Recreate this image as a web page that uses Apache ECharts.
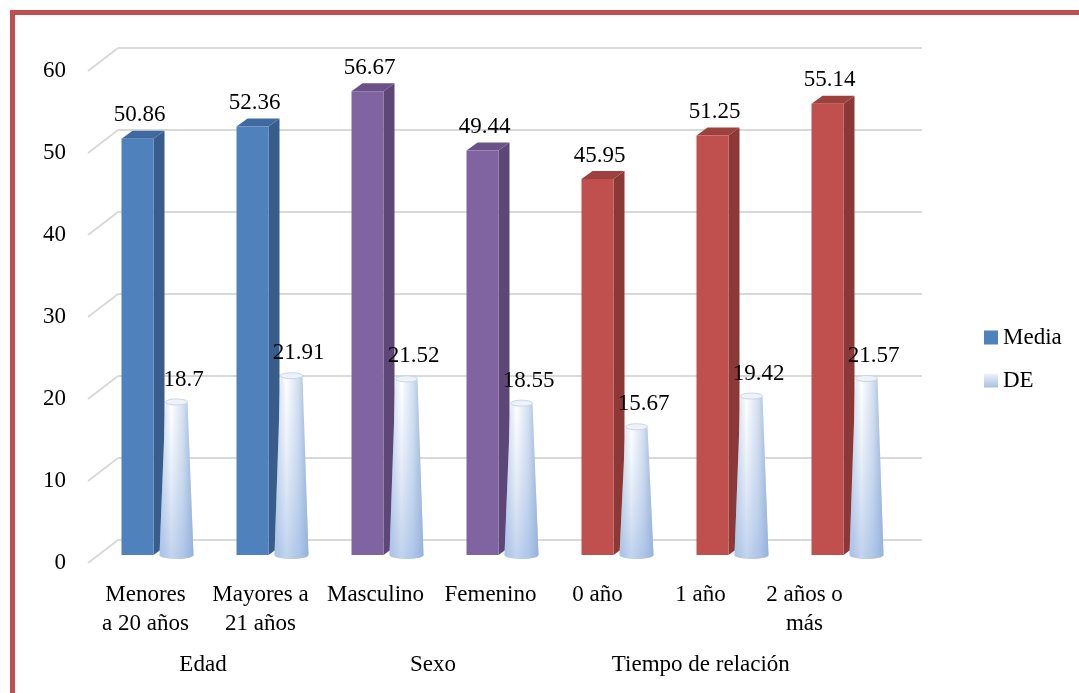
<!DOCTYPE html>
<html>
<head>
<meta charset="utf-8">
<script src="https://cdn.jsdelivr.net/npm/echarts@6/dist/echarts.min.js"></script>
<style>
  html, body { margin: 0; padding: 0; background: #fff; }
  #frame { position: absolute; left: 10px; top: 10px; width: 1069px; height: 683px;
           border-left: 5px solid #C0504D; border-top: 5px solid #C0504D; box-sizing: border-box; }
  #chart { position: absolute; left: 0; top: 0; width: 1079px; height: 693px; }
</style>
</head>
<body>
<div id="frame"></div>
<div id="chart"></div>
<script>
// datos
var categories = ['Menores\na 20 años', 'Mayores a\n21 años', 'Masculino', 'Femenino', '0 año', '1 año', '2 años o\nmás'];
var groups = ['Edad', 'Sexo', 'Tiempo de relación'];
var groupOf = [0, 0, 1, 1, 2, 2, 2];
var media = [50.86, 52.36, 56.67, 49.44, 45.95, 51.25, 55.14];
var de = [18.7, 21.91, 21.52, 18.55, 15.67, 19.42, 21.57];
var yTicks = [0, 10, 20, 30, 40, 50, 60];

var FONT = '"Liberation Serif", "DejaVu Serif", serif';
var FS = 23;
// colores por grupo: cara frontal, lateral, superior
var faceColors = [
    ['#4F81BD', '#385D8A', '#3E6AA0'],
    ['#8064A2', '#5C4776', '#6A5287'],
    ['#C0504D', '#8C3836', '#9E403D']
];
// desplazamiento horizontal de las etiquetas de categoria (como en el original)
var labelShift = [0, 0, 0, 0, -8, -20, -31];

var chart = echarts.init(document.getElementById('chart'));

function renderBar(params, api) {
    var i = api.value(0);
    var base = api.coord([i, 0]);
    var top = api.coord([i, api.value(1)]);
    var cx = base[0];
    var x0 = cx - 36, x1 = cx - 4, dx = 11, dy = 8;
    var yb = base[1], yt = top[1];
    var c = faceColors[groupOf[i]];
    return {
        type: 'group',
        children: [
            { type: 'polygon', shape: { points: [[x1, yb], [x1 + dx, yb - dy], [x1 + dx, yt - dy], [x1, yt]] },
              style: { fill: c[1] } },
            { type: 'polygon', shape: { points: [[x0, yt], [x0 + dx, yt - dy], [x1 + dx, yt - dy], [x1, yt]] },
              style: { fill: c[2] } },
            { type: 'rect', shape: { x: x0, y: yt, width: x1 - x0, height: yb - yt },
              style: { fill: c[0] } },
            { type: 'text', style: { text: String(api.value(1)), x: (x0 + x1) / 2 + 2, y: yt - dy - 4,
              align: 'center', verticalAlign: 'bottom', font: FS + 'px ' + FONT, fill: '#000' } }
        ]
    };
}

function renderCone(params, api) {
    var i = api.value(0);
    var base = api.coord([i, 0]);
    var top = api.coord([i, api.value(1)]);
    var cx = base[0] + 19;
    var rb = 17, rt = 11, ryb = 4, ryt = 3;
    var yb = base[1], yt = top[1];
    var pts = [[cx - rt, yt], [cx + rt, yt]];
    for (var k = 0; k <= 16; k++) {
        var a = Math.PI * k / 16;
        pts.push([cx + rb * Math.cos(a), yb + ryb * Math.sin(a)]);
    }
    var cap = [];
    for (var k2 = 0; k2 < 24; k2++) {
        var b = 2 * Math.PI * k2 / 24;
        cap.push([cx + rt * Math.cos(b), yt + ryt * Math.sin(b)]);
    }
    var hGrad = new echarts.graphic.LinearGradient(0, 0, 1, 0, [
        { offset: 0, color: '#c0d2ea' }, { offset: 0.35, color: '#ffffff' },
        { offset: 0.7, color: '#d2dff0' }, { offset: 1, color: '#93aed5' }
    ]);
    var vGrad = new echarts.graphic.LinearGradient(0, 0, 0, 1, [
        { offset: 0, color: 'rgba(185,205,235,0)' }, { offset: 1, color: 'rgba(150,180,225,0.6)' }
    ]);
    return {
        type: 'group',
        children: [
            { type: 'polygon', shape: { points: pts }, style: { fill: hGrad } },
            { type: 'polygon', shape: { points: pts }, style: { fill: vGrad } },
            { type: 'polygon', shape: { points: cap }, style: { fill: '#eef3fa', stroke: '#c9d6e8', lineWidth: 1 } },
            { type: 'text', style: { text: String(api.value(1)), x: cx + 7, y: yt - 11,
              align: 'center', verticalAlign: 'bottom', font: FS + 'px ' + FONT, fill: '#000' } }
        ]
    };
}

function renderDiag(params, api) {
    var p = api.coord([0, api.value(0)]);
    var x = params.coordSys.x;
    return { type: 'line', shape: { x1: x, y1: p[1], x2: x + 30, y2: p[1] - 23 },
             style: { stroke: '#d9d9d9', lineWidth: 2 } };
}

var richShift = {};
labelShift.forEach(function (s, i) {
    richShift['s' + i] = { fontSize: FS, fontFamily: FONT, color: '#000', lineHeight: 29,
                           padding: [0, -2 * s, 0, 0] };
});

var option = {
    backgroundColor: 'transparent',
    animation: false,
    textStyle: { fontFamily: FONT },
    grid: [
        { left: 118, top: 48, width: 804, height: 492 },   // pared del fondo
        { left: 100, top: 64, width: 805, height: 491 },   // barras
        { left: 88, top: 71, width: 805, height: 492 }     // plano frontal (etiquetas)
    ],
    xAxis: [
        { gridIndex: 0, type: 'category', data: categories, show: false },
        { gridIndex: 1, type: 'category', data: categories, show: false },
        { gridIndex: 2, type: 'category', data: categories,
          axisLine: { show: false }, axisTick: { show: false },
          axisLabel: { color: '#000', fontSize: FS, fontFamily: FONT, lineHeight: 29, margin: 17, interval: 0,
                       formatter: function (v, i) {
                           return v.split('\n').map(function (l) { return '{s' + i + '|' + l + '}'; }).join('\n');
                       },
                       rich: richShift } }
    ],
    yAxis: [
        { gridIndex: 0, type: 'value', min: 0, max: 60, interval: 10,
          axisLabel: { show: false }, axisLine: { show: false }, axisTick: { show: false },
          splitLine: { lineStyle: { color: '#d9d9d9', width: 2 } } },
        { gridIndex: 1, type: 'value', min: 0, max: 60, interval: 10, show: false, splitLine: { show: false } },
        { gridIndex: 2, type: 'value', min: 0, max: 60, interval: 10,
          axisLine: { show: false }, axisTick: { show: false }, splitLine: { show: false },
          axisLabel: { color: '#000', fontSize: FS, fontFamily: FONT, margin: 22 } }
    ],
    legend: {
        orient: 'vertical', left: 979, top: 321, itemWidth: 14, itemHeight: 14, itemGap: 20,
        icon: 'rect', textStyle: { fontSize: FS, fontFamily: FONT, color: '#000' },
        data: ['Media', 'DE']
    },
    series: [
        { name: 'Diag', type: 'custom', xAxisIndex: 2, yAxisIndex: 2, renderItem: renderDiag,
          data: yTicks.map(function (v) { return [v]; }), encode: { y: 0 }, silent: true, z: 1 },
        { name: 'Media', type: 'custom', xAxisIndex: 1, yAxisIndex: 1, renderItem: renderBar,
          itemStyle: { color: '#4F81BD' },
          data: media.map(function (v, i) { return [i, v]; }), z: 3 },
        { name: 'DE', type: 'custom', xAxisIndex: 1, yAxisIndex: 1, renderItem: renderCone,
          itemStyle: { color: new echarts.graphic.LinearGradient(0, 0, 0, 1, [
              { offset: 0, color: '#eef3fa' }, { offset: 1, color: '#a9c0e0' }]) },
          data: de.map(function (v, i) { return [i, v]; }), z: 4 }
    ]
};
chart.setOption(option);

// etiquetas de grupo centradas bajo sus categorias
var groupText = groups.map(function (g, gi) {
    var xs = [];
    groupOf.forEach(function (gg, i) {
        if (gg === gi) xs.push(chart.convertToPixel({ xAxisIndex: 2 }, i) + labelShift[i]);
    });
    var cx = xs.reduce(function (a, b) { return a + b; }, 0) / xs.length;
    return { type: 'text', x: cx, y: 665,
             style: { text: g, font: FS + 'px ' + FONT, fill: '#000', align: 'center', verticalAlign: 'middle' } };
});
chart.setOption({ graphic: groupText });
</script>
</body>
</html>
